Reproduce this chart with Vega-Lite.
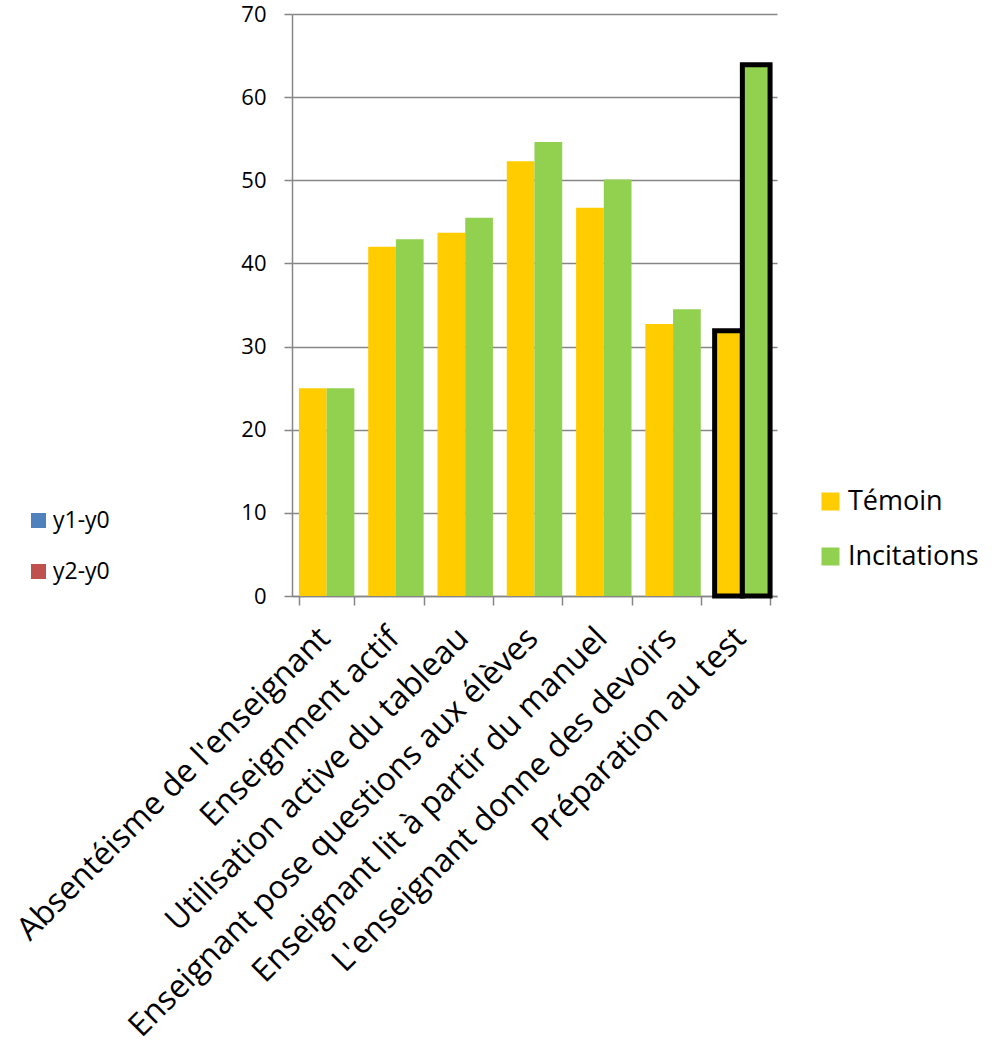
{
  "$schema": "https://vega.github.io/schema/vega-lite/v6.json",
  "width": 485,
  "height": 582,
  "autosize": {"type": "none"},
  "padding": {"left": 292, "top": 14, "right": 215, "bottom": 451},
  "background": "white",
  "config": {"font": "Open Sans", "view": {"stroke": null}},
  "datasets": {
    "main": [
      {"cat": "Absentéisme de l'enseignant", "serie": "Témoin", "val": 25},
      {"cat": "Absentéisme de l'enseignant", "serie": "Incitations", "val": 25},
      {"cat": "Enseignment actif", "serie": "Témoin", "val": 42},
      {"cat": "Enseignment actif", "serie": "Incitations", "val": 42.9},
      {"cat": "Utilisation active du tableau", "serie": "Témoin", "val": 43.7},
      {"cat": "Utilisation active du tableau", "serie": "Incitations", "val": 45.5},
      {"cat": "Enseignant pose questions aux élèves", "serie": "Témoin", "val": 52.3},
      {"cat": "Enseignant pose questions aux élèves", "serie": "Incitations", "val": 54.6},
      {"cat": "Enseignant lit à partir du manuel", "serie": "Témoin", "val": 46.7},
      {"cat": "Enseignant lit à partir du manuel", "serie": "Incitations", "val": 50.1},
      {"cat": "L'enseignant donne des devoirs", "serie": "Témoin", "val": 32.7},
      {"cat": "L'enseignant donne des devoirs", "serie": "Incitations", "val": 34.5},
      {"cat": "Préparation au test", "serie": "Témoin", "val": 31.9},
      {"cat": "Préparation au test", "serie": "Incitations", "val": 63.9}
    ],
    "aux": [
      {"cat": "Absentéisme de l'enseignant", "serie2": "y1-y0", "val": 0},
      {"cat": "Absentéisme de l'enseignant", "serie2": "y2-y0", "val": 0}
    ]
  },
  "layer": [
    {
      "data": {"name": "main"},
      "mark": {"type": "bar", "stroke": "black"},
      "encoding": {
        "x": {
          "field": "cat", "type": "nominal", "sort": null,
          "scale": {"paddingInner": 0.2, "paddingOuter": 0.1},
          "axis": {
            "title": null, "labelAngle": -45, "labelAlign": "right", "labelBaseline": "top",
            "labelFontSize": 32, "labelColor": "black", "labelLimit": 0, "labelPadding": 17,
            "labelOffset": -13,
            "tickBand": "extent", "tickSize": 9, "tickColor": "#868686", "tickWidth": 1.5,
            "domainColor": "#868686", "domainWidth": 1.5
          }
        },
        "xOffset": {"field": "serie", "sort": ["Témoin", "Incitations"]},
        "y": {
          "field": "val", "type": "quantitative",
          "scale": {"domain": [0, 70]},
          "axis": {
            "title": null, "values": [0, 10, 20, 30, 40, 50, 60, 70],
            "grid": true, "gridColor": "#868686", "gridWidth": 1.5,
            "domainColor": "#868686", "domainWidth": 1.5,
            "tickColor": "#868686", "tickSize": 8, "tickWidth": 1.5,
            "labelFontSize": 22, "labelColor": "black", "labelPadding": 18
          }
        },
        "color": {
          "field": "serie", "type": "nominal",
          "scale": {"domain": ["Témoin", "Incitations"], "range": ["#FFCC00", "#92D050"]},
          "legend": {
            "orient": "none", "legendX": 525, "legendY": 474, "title": null, "padding": 0,
            "labelFontSize": 27, "labelColor": "black", "symbolType": "square", "symbolSize": 324,
            "symbolStrokeWidth": 0, "rowPadding": 27, "labelOffset": 4
          }
        },
        "strokeWidth": {
          "condition": {"test": "datum.cat === 'Préparation au test'", "value": 5},
          "value": 0
        }
      }
    },
    {
      "data": {"name": "aux"},
      "mark": {"type": "bar"},
      "encoding": {
        "x": {"field": "cat", "type": "nominal", "sort": null},
        "y": {"field": "val", "type": "quantitative"},
        "color": {
          "field": "serie2", "type": "nominal",
          "scale": {"domain": ["y1-y0", "y2-y0"], "range": ["#4F81BD", "#C0504D"]},
          "legend": {
            "orient": "none", "legendX": -265, "legendY": 495, "title": null, "padding": 0,
            "labelFontSize": 23, "labelColor": "black", "symbolType": "square", "symbolSize": 225,
            "symbolStrokeWidth": 0, "rowPadding": 27, "labelOffset": 3
          }
        }
      }
    }
  ],
  "resolve": {"scale": {"color": "independent"}}
}
